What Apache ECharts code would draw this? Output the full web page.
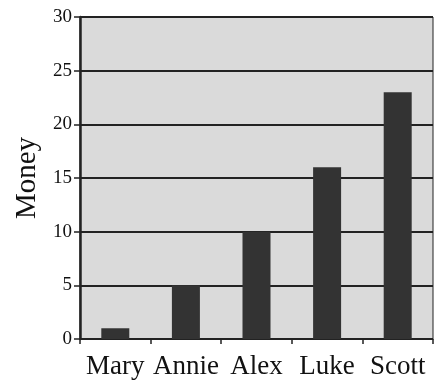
<!DOCTYPE html>
<html>
<head>
<meta charset="utf-8">
<script src="https://cdn.jsdelivr.net/npm/echarts@6/dist/echarts.min.js"></script>
<style>
  html, body { margin: 0; padding: 0; background: #fff; }
  #chart { width: 435px; height: 383px; }
</style>
</head>
<body>
<div id="chart"></div>
<script>
var names = ["Mary", "Annie", "Alex", "Luke", "Scott"];
var money = [1, 5, 10, 16, 23];
var yTicks = [0, 5, 10, 15, 20, 25, 30];

var serif = "Liberation Serif";
var chart = echarts.init(document.getElementById("chart"));
chart.setOption({
  animation: false,
  grid: {
    left: 80,
    right: 2,
    top: 17,
    bottom: 44,
    outerBoundsMode: "none",
    containLabel: false,
    show: true,
    backgroundColor: "#dadada",
    borderColor: "#222",
    borderWidth: 1
  },
  xAxis: {
    type: "category",
    data: names,
    axisLine: { lineStyle: { color: "#222", width: 1 } },
    axisTick: { show: true, length: 5, lineStyle: { color: "#222", width: 1.5 } },
    axisLabel: { interval: 0, color: "#111", fontFamily: serif, fontSize: 27, margin: 14 }
  },
  yAxis: {
    type: "value",
    min: yTicks[0],
    max: yTicks[yTicks.length - 1],
    interval: 5,
    name: "Money",
    nameLocation: "middle",
    nameRotate: 90,
    nameGap: 38,
    nameTextStyle: { color: "#111", fontFamily: serif, fontSize: 29 },
    axisLine: { show: true, lineStyle: { color: "#222", width: 2.5 } },
    axisTick: { show: true, length: 6, lineStyle: { color: "#222", width: 1.5 } },
    axisLabel: { color: "#111", fontFamily: serif, fontSize: 19, margin: 8 },
    splitLine: { show: true, lineStyle: { color: "#222", width: 2 } }
  },
  series: [{
    type: "bar",
    data: money,
    barWidth: 28,
    itemStyle: { color: "#333333" }
  }]
});
</script>
</body>
</html>
